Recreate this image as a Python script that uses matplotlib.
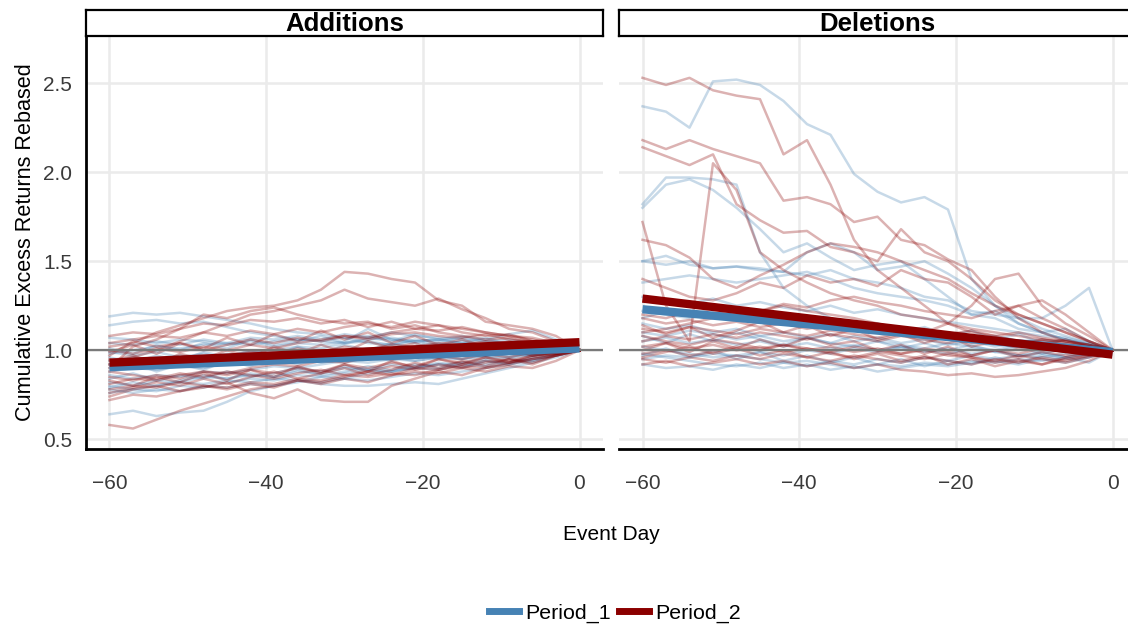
import matplotlib.pyplot as plt
from matplotlib.lines import Line2D

plt.rcParams['font.family'] = ['Liberation Sans', 'DejaVu Sans']

# event window, sampled every 3 trading days
days = list(range(-60, 1, 3))

# Additions, Period_1 (rebased so every name ends at 1.0)
add_p1 = [
    [1.19, 1.21, 1.20, 1.21, 1.19, 1.17, 1.15, 1.12, 1.10, 1.09, 1.07, 1.08, 1.06, 1.05, 1.06, 1.04, 1.03, 1.04, 1.02, 1.01, 1.00],
    [1.14, 1.16, 1.17, 1.15, 1.16, 1.13, 1.10, 1.08, 1.06, 1.05, 1.07, 1.04, 1.03, 1.05, 1.04, 1.02, 1.03, 1.01, 1.02, 1.00, 1.00],
    [0.64, 0.66, 0.63, 0.65, 0.66, 0.71, 0.77, 0.80, 0.82, 0.85, 0.84, 0.87, 0.88, 0.90, 0.92, 0.93, 0.95, 0.96, 0.97, 0.99, 1.00],
    [0.80, 0.78, 0.80, 0.82, 0.81, 0.83, 0.82, 0.84, 0.83, 0.81, 0.80, 0.80, 0.81, 0.82, 0.81, 0.84, 0.87, 0.90, 0.93, 0.96, 1.00],
    [0.92, 0.90, 0.93, 0.95, 0.94, 0.97, 0.99, 1.00, 1.02, 1.01, 1.04, 1.05, 1.03, 1.06, 1.05, 1.07, 1.05, 1.06, 1.04, 1.03, 1.00],
    [0.98, 1.00, 1.02, 1.01, 1.03, 1.04, 1.03, 1.05, 1.06, 1.05, 1.04, 1.06, 1.07, 1.05, 1.06, 1.08, 1.06, 1.09, 1.11, 1.06, 1.00],
    [0.86, 0.84, 0.86, 0.85, 0.88, 0.87, 0.89, 0.91, 0.90, 0.92, 0.94, 0.93, 0.95, 0.94, 0.96, 0.95, 0.97, 0.98, 0.97, 0.99, 1.00],
    [0.76, 0.78, 0.77, 0.80, 0.79, 0.82, 0.84, 0.83, 0.86, 0.85, 0.87, 0.89, 0.88, 0.90, 0.89, 0.92, 0.91, 0.93, 0.95, 0.97, 1.00],
    [1.04, 1.03, 1.05, 1.03, 1.06, 1.04, 1.07, 1.06, 1.08, 1.06, 1.09, 1.07, 1.10, 1.08, 1.07, 1.06, 1.05, 1.04, 1.03, 1.02, 1.00],
    [0.94, 0.96, 0.95, 0.97, 0.96, 0.98, 0.97, 0.99, 0.98, 1.00, 0.99, 1.01, 1.00, 1.02, 1.01, 1.00, 1.01, 0.99, 1.00, 1.01, 1.00],
    [0.82, 0.80, 0.83, 0.82, 0.85, 0.84, 0.86, 0.85, 0.88, 0.87, 0.90, 0.89, 0.88, 0.91, 0.92, 0.90, 0.94, 0.93, 0.96, 0.98, 1.00],
    [1.07, 1.06, 1.04, 1.06, 1.05, 1.03, 1.05, 1.02, 1.04, 1.03, 1.05, 1.12, 1.06, 1.04, 1.03, 1.05, 1.03, 1.02, 1.04, 1.01, 1.00],
    [0.88, 0.90, 0.89, 0.91, 0.90, 0.93, 0.92, 0.94, 0.96, 0.95, 0.97, 0.96, 0.98, 0.97, 0.99, 0.98, 0.97, 0.99, 0.98, 0.99, 1.00],
    [0.78, 0.76, 0.78, 0.77, 0.80, 0.79, 0.81, 0.80, 0.83, 0.82, 0.84, 0.83, 0.85, 0.87, 0.86, 0.88, 0.90, 0.92, 0.94, 0.97, 1.00],
    [0.99, 0.97, 0.99, 0.96, 0.98, 0.95, 0.97, 0.94, 0.96, 0.93, 0.95, 0.97, 0.96, 0.94, 0.96, 0.95, 0.97, 0.96, 0.98, 0.99, 1.00],
    [1.01, 0.98, 1.03, 1.00, 1.04, 1.01, 1.06, 1.03, 1.05, 1.08, 1.04, 1.07, 1.05, 1.09, 1.06, 1.04, 1.07, 1.03, 1.05, 1.02, 1.00],
    [0.90, 0.93, 0.88, 0.92, 0.89, 0.94, 0.91, 0.95, 0.92, 0.96, 0.93, 0.97, 0.94, 0.98, 0.95, 0.99, 0.96, 0.98, 0.97, 0.99, 1.00],
    [0.84, 0.87, 0.83, 0.86, 0.84, 0.88, 0.85, 0.87, 0.90, 0.88, 0.91, 0.89, 0.92, 0.90, 0.93, 0.91, 0.94, 0.92, 0.95, 0.97, 1.00],
    [0.96, 0.93, 0.97, 0.94, 0.99, 0.96, 1.00, 0.97, 1.02, 0.98, 1.03, 1.00, 1.04, 1.01, 1.03, 1.00, 1.02, 1.01, 1.03, 1.01, 1.00],
    [0.79, 0.82, 0.80, 0.83, 0.86, 0.84, 0.87, 0.85, 0.89, 0.86, 0.88, 0.91, 0.89, 0.92, 0.90, 0.93, 0.92, 0.95, 0.94, 0.98, 1.00],
]

# Additions, Period_2
add_p2 = [
    [1.02, 1.04, 1.10, 1.14, 1.18, 1.22, 1.24, 1.25, 1.28, 1.34, 1.44, 1.43, 1.40, 1.38, 1.28, 1.25, 1.16, 1.14, 1.12, 1.08, 1.00],
    [0.92, 0.96, 1.00, 1.05, 1.10, 1.15, 1.20, 1.22, 1.25, 1.28, 1.34, 1.29, 1.27, 1.25, 1.29, 1.23, 1.18, 1.12, 1.10, 1.05, 1.00],
    [0.58, 0.56, 0.61, 0.66, 0.70, 0.74, 0.78, 0.80, 0.83, 0.82, 0.85, 0.88, 0.86, 0.90, 0.89, 0.92, 0.94, 0.93, 0.96, 0.98, 1.00],
    [0.74, 0.78, 0.80, 0.77, 0.79, 0.82, 0.76, 0.73, 0.78, 0.72, 0.71, 0.71, 0.80, 0.84, 0.88, 0.86, 0.90, 0.92, 0.95, 0.97, 1.00],
    [0.90, 1.02, 1.06, 1.12, 1.20, 1.18, 1.22, 1.24, 1.20, 1.17, 1.15, 1.16, 1.12, 1.14, 1.10, 1.08, 1.06, 1.07, 1.04, 1.02, 1.00],
    [1.08, 1.10, 1.09, 1.12, 1.15, 1.14, 1.17, 1.16, 1.18, 1.15, 1.17, 1.13, 1.16, 1.12, 1.14, 1.10, 1.08, 1.09, 1.05, 1.03, 1.00],
    [0.85, 0.83, 0.86, 0.84, 0.88, 0.86, 0.89, 0.87, 0.90, 0.88, 0.92, 0.90, 0.93, 0.91, 0.95, 0.93, 0.96, 0.94, 0.97, 0.98, 1.00],
    [0.97, 1.05, 1.02, 1.04, 1.00, 1.03, 1.06, 1.04, 1.07, 1.05, 1.08, 1.06, 1.09, 1.10, 1.08, 1.07, 1.09, 1.06, 1.05, 1.03, 1.00],
    [0.78, 0.80, 0.79, 0.82, 0.80, 0.78, 0.81, 0.79, 0.83, 0.81, 0.84, 0.82, 0.86, 0.88, 0.87, 0.90, 0.88, 0.91, 0.90, 0.94, 1.00],
    [0.92, 0.94, 0.93, 0.96, 0.95, 0.97, 0.99, 0.98, 1.01, 0.99, 1.02, 1.00, 1.03, 1.02, 1.04, 1.03, 1.05, 1.04, 1.03, 1.02, 1.00],
    [1.00, 0.98, 1.01, 0.99, 1.02, 1.00, 1.03, 1.01, 1.04, 1.06, 1.08, 1.07, 1.10, 1.12, 1.11, 1.13, 1.10, 1.08, 1.06, 1.03, 1.00],
    [0.88, 0.86, 0.84, 0.87, 0.85, 0.88, 0.86, 0.84, 0.87, 0.89, 0.86, 0.88, 0.91, 0.89, 0.92, 0.90, 0.93, 0.95, 0.92, 0.97, 1.00],
    [0.81, 0.84, 0.83, 0.86, 0.88, 0.87, 0.90, 0.92, 0.91, 0.94, 0.93, 0.96, 0.95, 0.97, 0.96, 0.98, 0.97, 0.99, 0.98, 0.99, 1.00],
    [1.04, 1.06, 1.08, 1.07, 1.10, 1.08, 1.11, 1.09, 1.12, 1.10, 1.13, 1.15, 1.13, 1.16, 1.14, 1.12, 1.10, 1.08, 1.07, 1.04, 1.00],
    [0.95, 0.93, 0.91, 0.94, 0.92, 0.95, 0.93, 0.96, 0.94, 0.97, 0.95, 0.98, 0.96, 0.99, 0.97, 0.95, 0.98, 0.96, 0.99, 0.98, 1.00],
    [0.72, 0.75, 0.74, 0.77, 0.80, 0.79, 0.82, 0.81, 0.84, 0.83, 0.86, 0.85, 0.87, 0.86, 0.89, 0.91, 0.90, 0.93, 0.95, 0.97, 1.00],
    [0.99, 1.03, 0.98, 1.04, 1.01, 1.07, 1.03, 1.09, 1.05, 1.11, 1.06, 1.10, 1.04, 1.08, 1.03, 1.06, 1.02, 1.05, 1.01, 1.03, 1.00],
    [0.83, 0.80, 0.85, 0.82, 0.87, 0.83, 0.89, 0.85, 0.91, 0.87, 0.92, 0.88, 0.94, 0.90, 0.95, 0.92, 0.96, 0.93, 0.97, 0.98, 1.00],
    [0.94, 0.97, 0.92, 0.98, 0.95, 1.00, 0.96, 1.02, 0.98, 1.03, 0.99, 1.05, 1.01, 1.04, 0.99, 1.02, 0.98, 1.01, 0.97, 0.99, 1.00],
    [0.76, 0.79, 0.82, 0.80, 0.84, 0.81, 0.85, 0.88, 0.84, 0.87, 0.90, 0.86, 0.89, 0.93, 0.90, 0.94, 0.91, 0.95, 0.93, 0.97, 1.00],
]

# Deletions, Period_1
del_p1 = [
    [2.37, 2.34, 2.25, 2.51, 2.52, 2.49, 2.40, 2.27, 2.21, 1.99, 1.89, 1.83, 1.86, 1.79, 1.40, 1.25, 1.15, 1.10, 1.06, 1.03, 1.00],
    [1.82, 1.97, 1.97, 1.96, 1.93, 1.55, 1.35, 1.25, 1.18, 1.14, 1.12, 1.10, 1.08, 1.09, 1.06, 1.05, 1.04, 1.03, 1.02, 1.01, 1.00],
    [1.80, 1.93, 1.96, 1.90, 1.80, 1.68, 1.55, 1.60, 1.52, 1.45, 1.48, 1.50, 1.40, 1.30, 1.20, 1.18, 1.12, 1.10, 1.06, 1.03, 1.00],
    [1.50, 1.48, 1.50, 1.46, 1.47, 1.45, 1.44, 1.42, 1.45, 1.40, 1.38, 1.35, 1.30, 1.28, 1.22, 1.20, 1.18, 1.18, 1.25, 1.35, 1.00],
    [1.50, 1.53, 1.48, 1.46, 1.47, 1.46, 1.44, 1.55, 1.60, 1.55, 1.45, 1.47, 1.50, 1.43, 1.35, 1.25, 1.18, 1.12, 1.08, 1.04, 1.00],
    [1.38, 1.40, 1.42, 1.40, 1.38, 1.40, 1.42, 1.44, 1.40, 1.35, 1.32, 1.30, 1.28, 1.25, 1.20, 1.22, 1.15, 1.10, 1.12, 1.05, 1.00],
    [1.15, 1.12, 1.14, 1.10, 1.12, 1.08, 1.10, 1.07, 1.09, 1.05, 1.07, 1.04, 1.06, 1.03, 1.05, 1.02, 1.04, 1.01, 1.03, 1.02, 1.00],
    [0.92, 0.90, 0.91, 0.89, 0.92, 0.90, 0.93, 0.91, 0.94, 0.92, 0.95, 0.93, 0.96, 0.94, 0.97, 0.95, 0.97, 0.96, 0.98, 0.97, 1.00],
    [1.05, 1.07, 1.04, 1.06, 1.03, 1.05, 1.02, 1.04, 1.01, 1.03, 1.00, 1.02, 0.99, 1.01, 0.98, 1.00, 0.97, 0.99, 0.96, 0.98, 1.00],
    [0.98, 0.96, 0.94, 0.92, 0.91, 0.93, 0.90, 0.92, 0.89, 0.91, 0.88, 0.90, 0.92, 0.91, 0.93, 0.94, 0.92, 0.95, 0.93, 0.96, 1.00],
    [1.22, 1.20, 1.18, 1.21, 1.17, 1.19, 1.15, 1.17, 1.13, 1.15, 1.11, 1.13, 1.09, 1.10, 1.07, 1.08, 1.05, 1.06, 1.04, 1.02, 1.00],
    [1.10, 1.08, 1.11, 1.09, 1.06, 1.08, 1.05, 1.07, 1.04, 1.02, 1.05, 1.03, 1.01, 1.04, 1.02, 1.00, 1.03, 1.01, 0.99, 1.00, 1.00],
    [0.95, 0.97, 0.96, 0.98, 0.97, 0.99, 0.97, 1.00, 0.98, 1.01, 0.99, 1.02, 1.00, 0.98, 1.01, 0.99, 0.97, 0.98, 0.96, 0.93, 1.00],
    [1.30, 1.28, 1.26, 1.29, 1.25, 1.27, 1.24, 1.22, 1.25, 1.21, 1.23, 1.20, 1.18, 1.16, 1.14, 1.12, 1.10, 1.08, 1.07, 1.04, 1.00],
    [1.02, 1.00, 0.98, 0.96, 0.97, 0.95, 0.93, 0.94, 0.92, 0.90, 0.92, 0.91, 0.93, 0.92, 0.94, 0.93, 0.95, 0.94, 0.96, 0.98, 1.00],
    [1.08, 1.04, 1.09, 1.05, 1.10, 1.06, 1.03, 1.07, 1.04, 1.08, 1.05, 1.01, 1.04, 1.00, 1.03, 0.99, 1.02, 0.98, 1.01, 0.99, 1.00],
    [0.97, 1.01, 0.96, 1.00, 0.95, 0.99, 0.94, 0.97, 0.93, 0.96, 0.92, 0.95, 0.91, 0.94, 0.92, 0.96, 0.93, 0.97, 0.95, 0.96, 1.00],
    [1.18, 1.22, 1.19, 1.24, 1.20, 1.16, 1.20, 1.15, 1.18, 1.12, 1.15, 1.10, 1.13, 1.08, 1.11, 1.06, 1.09, 1.04, 1.06, 1.03, 1.00],
]

# Deletions, Period_2
del_p2 = [
    [2.53, 2.49, 2.53, 2.46, 2.43, 2.41, 2.10, 2.18, 1.93, 1.62, 1.45, 1.35, 1.25, 1.15, 1.10, 1.08, 1.05, 1.05, 1.03, 1.02, 1.00],
    [2.18, 2.13, 2.18, 2.13, 2.09, 2.05, 1.84, 1.86, 1.82, 1.72, 1.75, 1.62, 1.59, 1.51, 1.45, 1.30, 1.18, 1.10, 1.05, 1.03, 1.00],
    [2.14, 2.09, 2.04, 2.10, 1.82, 1.73, 1.66, 1.67, 1.58, 1.55, 1.50, 1.68, 1.55, 1.50, 1.40, 1.28, 1.20, 1.15, 1.10, 1.05, 1.00],
    [1.72, 1.25, 1.05, 2.05, 1.90, 1.55, 1.45, 1.38, 1.32, 1.28, 1.25, 1.20, 1.18, 1.15, 1.12, 1.10, 1.08, 1.06, 1.05, 1.03, 1.00],
    [1.62, 1.59, 1.52, 1.40, 1.35, 1.42, 1.48, 1.55, 1.60, 1.58, 1.55, 1.50, 1.45, 1.40, 1.32, 1.25, 1.20, 1.15, 1.10, 1.05, 1.00],
    [1.40, 1.35, 1.30, 1.28, 1.32, 1.38, 1.35, 1.42, 1.38, 1.40, 1.36, 1.45, 1.40, 1.38, 1.30, 1.20, 1.25, 1.18, 1.12, 1.05, 1.00],
    [1.10, 1.12, 1.15, 1.18, 1.20, 1.22, 1.25, 1.22, 1.20, 1.18, 1.15, 1.12, 1.10, 1.15, 1.25, 1.40, 1.43, 1.25, 1.15, 1.08, 1.00],
    [1.20, 1.18, 1.22, 1.20, 1.24, 1.22, 1.26, 1.24, 1.28, 1.30, 1.27, 1.25, 1.22, 1.20, 1.18, 1.22, 1.25, 1.28, 1.20, 1.10, 1.00],
    [1.05, 1.08, 1.06, 1.09, 1.07, 1.10, 1.08, 1.06, 1.09, 1.07, 1.05, 1.08, 1.06, 1.04, 1.07, 1.05, 1.03, 1.06, 1.04, 1.02, 1.00],
    [0.95, 0.93, 0.96, 0.94, 0.97, 0.95, 0.98, 0.96, 0.94, 0.97, 0.95, 0.93, 0.96, 0.94, 0.92, 0.95, 0.93, 0.96, 0.94, 0.97, 1.00],
    [1.12, 1.10, 1.13, 1.11, 1.09, 1.12, 1.10, 1.08, 1.11, 1.09, 1.07, 1.10, 1.08, 1.06, 1.04, 1.07, 1.05, 1.03, 1.06, 1.02, 1.00],
    [0.98, 1.00, 0.97, 0.99, 1.02, 1.00, 1.03, 1.01, 0.99, 1.02, 1.00, 0.98, 1.01, 0.99, 0.97, 1.00, 0.98, 1.01, 0.99, 1.00, 1.00],
    [0.92, 0.94, 0.91, 0.93, 0.95, 0.92, 0.94, 0.91, 0.93, 0.90, 0.92, 0.89, 0.88, 0.86, 0.87, 0.85, 0.86, 0.88, 0.90, 0.94, 1.00],
    [1.18, 1.15, 1.17, 1.14, 1.16, 1.13, 1.15, 1.12, 1.14, 1.11, 1.13, 1.10, 1.12, 1.09, 1.11, 1.08, 1.10, 1.07, 1.05, 1.03, 1.00],
    [1.02, 1.04, 1.01, 1.03, 1.00, 1.02, 0.99, 1.01, 0.98, 0.96, 0.99, 0.97, 0.95, 0.98, 0.96, 0.94, 0.97, 0.95, 0.93, 0.96, 1.00],
    [1.08, 1.05, 1.03, 1.06, 1.04, 1.01, 1.03, 1.00, 1.02, 0.99, 1.01, 0.98, 1.00, 0.97, 0.96, 0.93, 0.95, 0.92, 0.96, 0.98, 1.00],
    [1.14, 1.09, 1.13, 1.07, 1.11, 1.16, 1.10, 1.14, 1.08, 1.12, 1.06, 1.09, 1.04, 1.08, 1.02, 1.05, 1.01, 1.04, 0.99, 1.02, 1.00],
    [1.00, 1.04, 0.99, 1.05, 1.01, 1.06, 1.02, 1.07, 1.03, 1.05, 1.00, 1.03, 0.98, 1.02, 0.97, 1.00, 0.96, 0.99, 0.97, 0.99, 1.00],
    [0.96, 0.99, 1.02, 0.98, 1.01, 0.97, 1.00, 0.96, 0.99, 0.95, 0.98, 0.94, 0.97, 0.92, 0.95, 0.91, 0.94, 0.92, 0.95, 0.97, 1.00],
]

# linear trend per period, value at day -60 and day 0
trend_days = [-60, 0]
add_trend_p1 = [0.905, 1.010]
add_trend_p2 = [0.930, 1.045]
del_trend_p1 = [1.230, 0.990]
del_trend_p2 = [1.290, 0.975]

panels = [
    ('Additions', add_p1, add_p2, add_trend_p1, add_trend_p2),
    ('Deletions', del_p1, del_p2, del_trend_p1, del_trend_p2),
]

BLUE = '#4682B4'
RED = '#8B0000'
W, H = 1128, 626

fig = plt.figure(figsize=(W / 100, H / 100), dpi=100)


def px_box(x0, y0, x1, y1):
    return [x0 / W, 1 - y1 / H, (x1 - x0) / W, (y1 - y0) / H]


panel_x = [(86, 603), (619, 1136)]

for i, (title, p1, p2, t1, t2) in enumerate(panels):
    x0, x1 = panel_x[i]
    ax = fig.add_axes(px_box(x0, 36, x1, 449))
    ax.set_xlim(-63, 3)
    ax.set_ylim(0.445, 2.765)
    ax.set_xticks([-60, -40, -20, 0])
    ax.set_yticks([0.5, 1.0, 1.5, 2.0, 2.5])
    ax.grid(True, color='#EBEBEB', linewidth=1.8)
    ax.set_axisbelow(True)
    ax.tick_params(length=0, labelsize=15, colors='#3a3a3a')
    ax.tick_params(axis='x', pad=18)
    ax.tick_params(axis='y', pad=10)
    for side in ['top', 'right']:
        ax.spines[side].set_visible(False)
    ax.spines['bottom'].set_linewidth(2)
    if i == 0:
        ax.spines['left'].set_linewidth(2)
        ax.set_ylabel('Cumulative Excess Returns Rebased', fontsize=15.6, labelpad=5)
    else:
        ax.spines['left'].set_visible(False)
        ax.tick_params(axis='y', labelleft=False)

    for series in p1:
        ax.plot(days, series, color=BLUE, alpha=0.3, linewidth=1.8)
    for series in p2:
        ax.plot(days, series, color=RED, alpha=0.3, linewidth=1.8)

    ax.axhline(1.0, color='#7a7a7a', linewidth=1.6)
    ax.plot(trend_days, t1, color=BLUE, linewidth=6, solid_capstyle='butt')
    ax.plot(trend_days, t2, color=RED, linewidth=6, solid_capstyle='butt')

    # facet strip
    sx = fig.add_axes(px_box(x0, 10, x1, 36))
    sx.set_xticks([])
    sx.set_yticks([])
    for sp in sx.spines.values():
        sp.set_linewidth(1.6)
    sx.text(0.5, 0.45, title, transform=sx.transAxes, ha='center', va='center',
            fontsize=18.5, fontweight='bold')

fig.text(611 / W, 1 - 535 / H, 'Event Day', ha='center', va='center', fontsize=15)

handles = [Line2D([], [], color=BLUE, linewidth=5),
           Line2D([], [], color=RED, linewidth=5)]
fig.legend(handles, ['Period_1', 'Period_2'], loc='center',
           bbox_to_anchor=(615 / W, 1 - 613 / H), ncol=2, frameon=False,
           fontsize=15.4, handlelength=1.4, handletextpad=0.3, columnspacing=0.35)

fig.savefig('out.png', dpi=100)
